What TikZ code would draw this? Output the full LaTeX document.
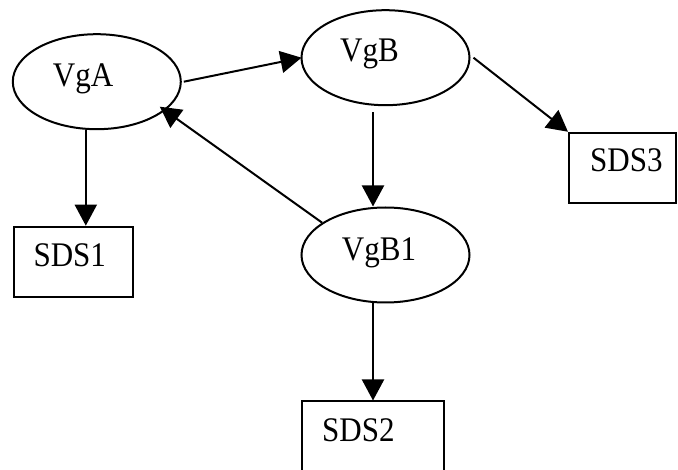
\documentclass[tikz,border=0pt]{standalone}
\usepackage{fontspec}
\setmainfont{Liberation Serif}[FakeStretch=0.9]
\usetikzlibrary{arrows.meta,calc,shapes.geometric}
\begin{document}
\begin{tikzpicture}[x=1pt,y=-1pt,
  shapeline/.style={draw=black,line width=2pt},
  oval/.style={shapeline,ellipse,minimum width=168pt,minimum height=95pt,inner sep=0pt},
  box/.style={shapeline,rectangle,inner sep=0pt},
  lbl/.style={anchor=base west,inner sep=0pt,font=\fontsize{34.5}{40}\selectfont},
  conn/.style={line width=2pt,-{Triangle[length=21pt,width=22pt]}}
]
\useasboundingbox (0,0) rectangle (678,470);
\clip (0,0) rectangle (678,470);

% shapes
\node[oval] (A)  at (96.8,81.7) {};
\node[oval] (B)  at (385.5,57.7) {};
\node[oval] (B1) at (385.5,255) {};
\node[box,minimum width=119pt,minimum height=70pt] (S1) at (73,261.7) {};
\node[box,minimum width=107pt,minimum height=70.5pt] (S3) at (622.5,168) {};
\node[box,minimum width=142pt,minimum height=76pt] (S2) at (373.4,439.5) {};

% labels
\node[lbl] (tA)  at (52.7,86.7) {VgA};
\node[lbl] (tB)  at (340,61.3) {VgB};
\node[lbl] (tB1) at (341.7,261) {VgB1};
\node[lbl] (t1)  at (33.3,266.7) {SDS1};
\node[lbl] (t3)  at (590,172) {SDS3};
\node[lbl] (t2)  at (322,442) {SDS2};

% connectors
\draw[conn] ([xshift=2pt]A.east) -- ([xshift=1pt]B.west);
\draw[conn] (B1.153) -- ($(A.center)+(63,25)$);
\draw[conn] ([xshift=-11pt]A.south) -- ([xshift=-11pt]A.south |- S1.north);
\draw[conn] ([xshift=-12.5pt,yshift=-6pt]B.south) -- ([xshift=-12.5pt]B.south |- B1.north);
\draw[conn] ([xshift=3pt]B.east) -- (S3.north west);
\draw[conn] ([xshift=-12.5pt]B1.south) -- ([xshift=-12.5pt]B1.south |- S2.north);
\end{tikzpicture}
\end{document}
